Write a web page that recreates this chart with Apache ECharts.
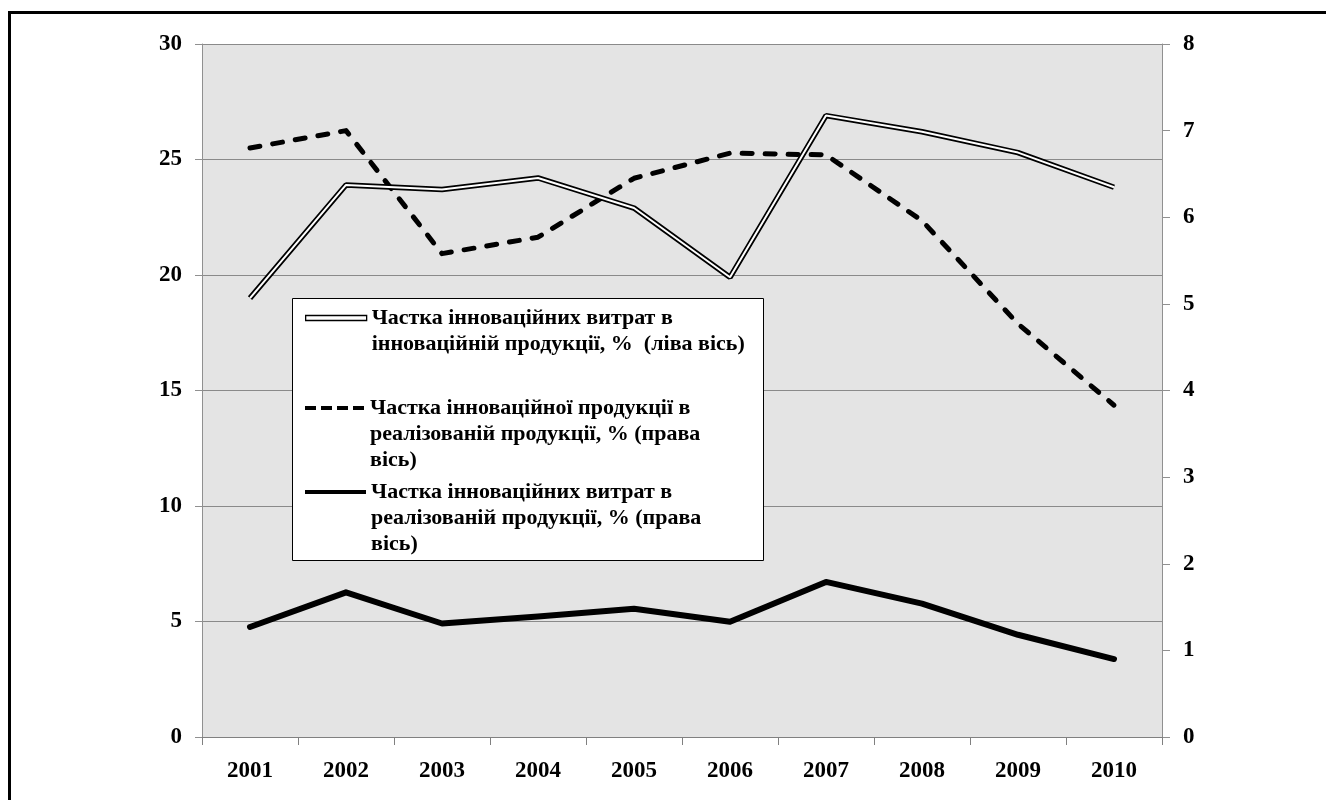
<!DOCTYPE html>
<html>
<head>
<meta charset="utf-8">
<script src="https://cdn.jsdelivr.net/npm/echarts@6/dist/echarts.min.js"></script>
<style>
html,body{margin:0;padding:0;background:#fff;}
#chart{width:1326px;height:800px;}
</style>
</head>
<body>
<div id="chart"></div>
<script>
const years = ['2001','2002','2003','2004','2005','2006','2007','2008','2009','2010'];
const costsInInnovProduct = [19.0, 23.9, 23.7, 24.2, 22.9, 19.9, 26.9, 26.2, 25.3, 23.8];
const innovProductInSales = [6.8, 7.0, 5.58, 5.77, 6.45, 6.74, 6.72, 5.96, 4.77, 3.83];
const costsInSales = [1.27, 1.67, 1.31, 1.39, 1.48, 1.33, 1.79, 1.54, 1.18, 0.90];
const leftTicks = {min: 0, max: 30, interval: 5};
const rightTicks = {min: 0, max: 8, interval: 1};

const name1 = 'Частка інноваційних витрат в\nінноваційній продукції, %  (ліва вісь)';
const name2 = 'Частка інноваційної продукції в\nреалізованій продукції, % (права\nвісь)';
const name3 = 'Частка інноваційних витрат в\nреалізованій продукції, % (права\nвісь)';

const FONT = "'Liberation Serif', 'Times New Roman', serif";
const LH = 26;
const legendText = {fontFamily: FONT, fontWeight: 'bold', fontSize: 22, color: '#000', lineHeight: LH};
// blank lines above so that the icon sits beside the first text line
const padLines = (name) => '\n'.repeat(name.split('\n').length - 1) + name;

const chart = echarts.init(document.getElementById('chart'));
chart.setOption({
  animation: false,
  backgroundColor: '#fff',
  grid: {left: 202, right: 164, top: 44, bottom: 63, show: true,
         backgroundColor: '#e4e4e4', borderWidth: 0},
  xAxis: {
    type: 'category', data: years, boundaryGap: true,
    axisLine: {lineStyle: {color: '#808080', width: 1}},
    axisTick: {show: true, length: 8, lineStyle: {color: '#808080'}},
    axisLabel: {margin: 23, fontFamily: FONT, fontWeight: 'bold', fontSize: 23, color: '#000'}
  },
  yAxis: [
    {type: 'value', min: leftTicks.min, max: leftTicks.max, interval: leftTicks.interval, position: 'left',
     axisLine: {show: true, lineStyle: {color: '#909090'}},
     axisTick: {show: true, length: 7, lineStyle: {color: '#909090'}},
     splitLine: {show: true, lineStyle: {color: '#8a8a8a', width: 1}},
     axisLabel: {margin: 20, fontFamily: FONT, fontWeight: 'bold', fontSize: 23, color: '#000'}},
    {type: 'value', min: rightTicks.min, max: rightTicks.max, interval: rightTicks.interval, position: 'right',
     axisLine: {show: true, lineStyle: {color: '#909090'}},
     axisTick: {show: true, length: 8, lineStyle: {color: '#909090'}},
     splitLine: {show: false},
     axisLabel: {margin: 21, fontFamily: FONT, fontWeight: 'bold', fontSize: 23, color: '#000'}}
  ],
  legend: [
    {top: 279, left: 305, orient: 'vertical', padding: 0, itemWidth: 61, itemHeight: 5, selectedMode: false,
     formatter: padLines,
     data: [{name: name1, icon: 'rect', itemStyle: {color: '#fff', borderColor: '#000', borderWidth: 1.3}}],
     textStyle: legendText},
    {top: 343, left: 305, orient: 'vertical', padding: 0, itemWidth: 61, itemHeight: 4, selectedMode: false,
     formatter: padLines,
     data: [{name: name2, icon: 'path://M0,0H11V4H0Z M16,0H27V4H16Z M32,0H43V4H32Z M48,0H59V4H48Z', itemStyle: {color: '#000'}}],
     textStyle: legendText},
    {top: 427, left: 305, orient: 'vertical', padding: 0, itemWidth: 61, itemHeight: 4, selectedMode: false,
     formatter: padLines,
     data: [{name: name3, icon: 'rect', itemStyle: {color: '#000'}}],
     textStyle: legendText}
  ],
  graphic: [
    {type: 'rect', z: 3, silent: true, shape: {x: 292.5, y: 298.5, width: 471, height: 262},
     style: {fill: '#fff', stroke: '#000', lineWidth: 1}},
    {type: 'rect', z: 10, silent: true, shape: {x: 9.5, y: 12.5, width: 1400, height: 900},
     style: {fill: 'none', stroke: '#000', lineWidth: 3}}
  ],
  series: [
    {name: 'outline', type: 'line', yAxisIndex: 0, data: costsInInnovProduct, symbol: 'none', z: 2,
     lineStyle: {color: '#000', width: 5.5}, itemStyle: {color: '#000'}},
    {name: name1, type: 'line', yAxisIndex: 0, data: costsInInnovProduct, symbol: 'none', z: 3,
     lineStyle: {color: '#fff', width: 2}, itemStyle: {color: '#fff'}},
    {name: name2, type: 'line', yAxisIndex: 1, data: innovProductInSales, symbol: 'none', z: 2,
     lineStyle: {color: '#000', width: 5, type: [10, 13], cap: 'round', join: 'round'}, itemStyle: {color: '#000'}},
    {name: name3, type: 'line', yAxisIndex: 1, data: costsInSales, symbol: 'none', z: 2,
     lineStyle: {color: '#000', width: 6, join: 'round', cap: 'round'}, itemStyle: {color: '#000'}}
  ]
});
</script>
</body>
</html>
